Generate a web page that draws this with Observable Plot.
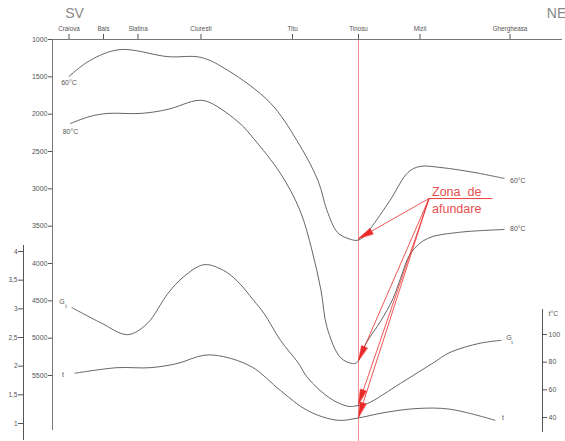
<!DOCTYPE html>
<html><head><meta charset="utf-8">
<script src="https://cdn.jsdelivr.net/npm/d3@7"></script>
<script src="https://cdn.jsdelivr.net/npm/@observablehq/plot@0.6"></script>
<style>
body{margin:0;background:#fff;}
#chart svg{display:block;}
#chart g[aria-label^="x-axis"] text{font-size:6.3px;}
</style></head><body><div id="chart"></div>
<script>
// ---- data ----
const stations = ["Craiova","Bals","Slatina","Ciuresti","Titu","Tinosu","Mizil","Ghergheasa"];
const stationKm = [11, 34, 57, 99, 160, 204, 245, 305];
const depthTicks = [1000,1500,2000,2500,3000,3500,4000,4500,5000,5500];
const gtTicks = [1, 1.5, 2, 2.5, 3, 3.5, 4];
const tempTicks = [40, 60, 80, 100];

// isotherm 60°C (depth, m)
const iso60Km    = [11, 25, 45, 77, 99, 117, 145, 163, 177, 183, 190, 197, 203, 207, 212, 225, 237, 245, 259, 281, 301];
const iso60Depth = [1495, 1280, 1135, 1230, 1240, 1415, 1845, 2355, 2890, 3290, 3585, 3665, 3690, 3650, 3530, 3155, 2780, 2700, 2715, 2780, 2860];
// isotherm 80°C (depth, m)
const iso80Km    = [12, 25, 37, 59, 77, 97, 105, 125, 134, 152, 165, 173, 179, 183, 192, 200, 203, 209, 219, 227, 232, 239, 250, 270, 301];
const iso80Depth = [2125, 2030, 1990, 1990, 1935, 1815, 1845, 2125, 2325, 2795, 3290, 3825, 4360, 4855, 5260, 5340, 5325, 5070, 4765, 4470, 4200, 3855, 3665, 3585, 3545];
// Gt (left auxiliary scale)
const gtKm    = [13, 32, 50, 63, 77, 87, 101, 114, 123, 134, 141, 152, 164, 170, 185, 197, 203, 210, 232, 254, 265, 285, 299];
const gtValue = [3.02, 2.76, 2.55, 2.74, 3.27, 3.55, 3.77, 3.67, 3.49, 3.15, 2.92, 2.45, 2.05, 1.80, 1.44, 1.30, 1.31, 1.35, 1.70, 2.06, 2.24, 2.40, 2.45];
// t °C (right auxiliary scale)
const tKm    = [15, 43, 65, 83, 101, 114, 133, 152, 170, 190, 203, 221, 243, 265, 295];
const tValue = [72, 76, 76, 79, 85, 84, 76.5, 59.5, 45, 38, 39.5, 43.5, 46.5, 46, 38];

// annotation "Zona de afundare"
const arrowFrom = {km: 251, depth: 3130};
const arrowTipKm = [204, 204, 204, 204];
const arrowTipDepth = [3665, 5300, 5885, 6060];

// ---- layout helpers (pixel <-> data, matching the scales below) ----
const W = 565, H = 441, mL = 52, mR = 3, mT = 39, mB = 11;
const kmMax = 340, dMin = 1000, dMax = 1000 + (H - mB - mT) * 4500 / 336;
const px = km => mL + km * (W - mL - mR) / kmMax;
const py = d => mT + (d - dMin) * (H - mB - mT) / (dMax - dMin);
const X = p => (p - mL) * kmMax / (W - mL - mR);
const Y = p => dMin + (p - mT) * (dMax - dMin) / (H - mB - mT);

const gtToDepth = d3.scaleLinear().domain([1, 4]).range([Y(423), Y(251)]);
const tToDepth = d3.scaleLinear().domain([40, 100]).range([Y(417), Y(334)]);

const iso60 = iso60Km.map((km, i) => ({km, depth: iso60Depth[i]}));
const iso80 = iso80Km.map((km, i) => ({km, depth: iso80Depth[i]}));
const gt = gtKm.map((km, i) => ({km, depth: gtToDepth(gtValue[i])}));
const tc = tKm.map((km, i) => ({km, depth: tToDepth(tValue[i])}));
const tips = arrowTipKm.map((km, i) => ({km, depth: arrowTipDepth[i]}));

function head(from, to, id, L = 15, Wd = 6.5) {
  const x0 = px(from.km), y0 = py(from.depth), x1 = px(to.km), y1 = py(to.depth);
  const len = Math.hypot(x1 - x0, y1 - y0), ux = (x1 - x0) / len, uy = (y1 - y0) / len;
  const bx = x1 - ux * L, by = y1 - uy * L, nx = -uy, ny = ux;
  return [[x1, y1], [bx + nx * Wd / 2, by + ny * Wd / 2], [bx - nx * Wd / 2, by - ny * Wd / 2]]
    .map(([a, b]) => ({id, km: X(a), depth: Y(b)}));
}
const heads = tips.flatMap((t, i) => head(arrowFrom, t, i));

const nameOf = new Map(stationKm.map((k, i) => [k, stations[i]]));
const fmtComma = d => String(d).replace(".", ",");
const ink = "#555", axisInk = "#777", red = "#ea2a2a";
const first = a => a[0], last = a => a[a.length - 1];

const chart = Plot.plot({
  width: W, height: H,
  marginTop: mT, marginBottom: mB, marginLeft: mL, marginRight: mR,
  style: {fontFamily: "'Liberation Sans', Arial, sans-serif", fontSize: "7px", color: "#555", background: "#fff"},
  x: {domain: [0, kmMax], axis: "top", ticks: stationKm, tickFormat: d => nameOf.get(d), tickSize: 6, tickPadding: 3, label: null},
  y: {domain: [dMin, dMax], reverse: true, ticks: depthTicks, tickFormat: d => String(d), tickSize: 4, tickPadding: 1, label: null},
  marks: [
    // Tinosu vertical red line
    Plot.ruleX([stationKm[5]], {y1: dMin, y2: Y(H), stroke: "#f29090", strokeWidth: 1}),
    // main frame lines
    Plot.ruleY([dMin], {stroke: axisInk}),
    Plot.ruleX([0], {stroke: axisInk}),
    // Gt auxiliary axis (left)
    Plot.ruleX([X(23)], {y1: Y(245), y2: Y(440), stroke: ink}),
    Plot.ruleY(gtTicks, {y: gtToDepth, x1: X(18), x2: X(23), stroke: ink}),
    Plot.text(gtTicks, {y: gtToDepth, x: X(17), text: fmtComma, textAnchor: "end", fontSize: 6.5, fill: "#555"}),
    // t°C auxiliary axis (right)
    Plot.ruleX([X(542)], {y1: Y(309), y2: Y(432), stroke: ink}),
    Plot.ruleY(tempTicks, {y: tToDepth, x1: X(542), x2: X(547), stroke: ink}),
    Plot.text(tempTicks, {y: tToDepth, x: X(548), text: d => String(d), textAnchor: "start", fontSize: 7, fill: "#555"}),
    Plot.text(["t°C"], {x: X(548), y: Y(313), text: d => d, textAnchor: "start", fontSize: 7, fill: "#555"}),
    // direction labels
    Plot.text(["SV"], {x: X(74), y: Y(13), text: d => d, fontSize: 14, fill: "#888"}),
    Plot.text(["NE"], {x: X(556), y: Y(13), text: d => d, fontSize: 14, fill: "#888"}),
    // curves
    Plot.line(iso60, {x: "km", y: "depth", curve: "catmull-rom", stroke: ink, strokeWidth: 0.9}),
    Plot.line(iso80, {x: "km", y: "depth", curve: "catmull-rom", stroke: ink, strokeWidth: 0.9}),
    Plot.line(gt, {x: "km", y: "depth", curve: "catmull-rom", stroke: ink, strokeWidth: 0.9}),
    Plot.line(tc, {x: "km", y: "depth", curve: "catmull-rom", stroke: ink, strokeWidth: 0.9}),
    // curve labels
    Plot.text([first(iso60)], {x: "km", y: "depth", text: () => "60°C", dx: 0, dy: 6, fontSize: 7, fill: "#555"}),
    Plot.text([last(iso60)], {x: "km", y: "depth", text: () => "60°C", dx: 6, dy: 2, textAnchor: "start", fontSize: 7, fill: "#555"}),
    Plot.text([first(iso80)], {x: "km", y: "depth", text: () => "80°C", dx: 0, dy: 8, fontSize: 7, fill: "#555"}),
    Plot.text([last(iso80)], {x: "km", y: "depth", text: () => "80°C", dx: 6, dy: -1, textAnchor: "start", fontSize: 7, fill: "#555"}),
    Plot.text([first(gt)], {x: "km", y: "depth", text: () => "G", dx: -10, dy: -6, fontSize: 7, fill: "#555"}),
    Plot.text([first(gt)], {x: "km", y: "depth", text: () => "t", dx: -6, dy: -1, fontSize: 5.5, fill: "#555"}),
    Plot.text([last(gt)], {x: "km", y: "depth", text: () => "G", dx: 8, dy: -3, fontSize: 7, fill: "#555"}),
    Plot.text([last(gt)], {x: "km", y: "depth", text: () => "t", dx: 11, dy: 2, fontSize: 5.5, fill: "#555"}),
    Plot.text([first(tc)], {x: "km", y: "depth", text: () => "t", dx: -12, dy: 2, fontSize: 7, fill: "#555"}),
    Plot.text([last(tc)], {x: "km", y: "depth", text: () => "t", dx: 8, dy: -3, fontSize: 7, fill: "#555"}),
    // annotation
    Plot.link(tips, {x1: () => arrowFrom.km, y1: () => arrowFrom.depth, x2: "km", y2: "depth", stroke: red, strokeWidth: 0.8}),
    Plot.line(heads, {x: "km", y: "depth", z: "id", fill: red, stroke: red, strokeWidth: 0.5, curve: "linear-closed"}),
    Plot.link([arrowFrom], {x1: "km", y1: "depth", x2: () => X(492), y2: "depth", stroke: red, strokeWidth: 0.9}),
    Plot.text(["Zona\u00a0\u00a0de"], {x: () => arrowFrom.km, y: () => arrowFrom.depth, text: d => d, dx: 3, dy: -7, textAnchor: "start", fontSize: 12.5, fill: "#e85050"}),
    Plot.text(["afundare"], {x: () => arrowFrom.km, y: () => arrowFrom.depth, text: d => d, dx: 3, dy: 10, textAnchor: "start", fontSize: 12.5, fill: "#e85050"})
  ]
});
document.getElementById("chart").appendChild(chart);
</script>
</body></html>
